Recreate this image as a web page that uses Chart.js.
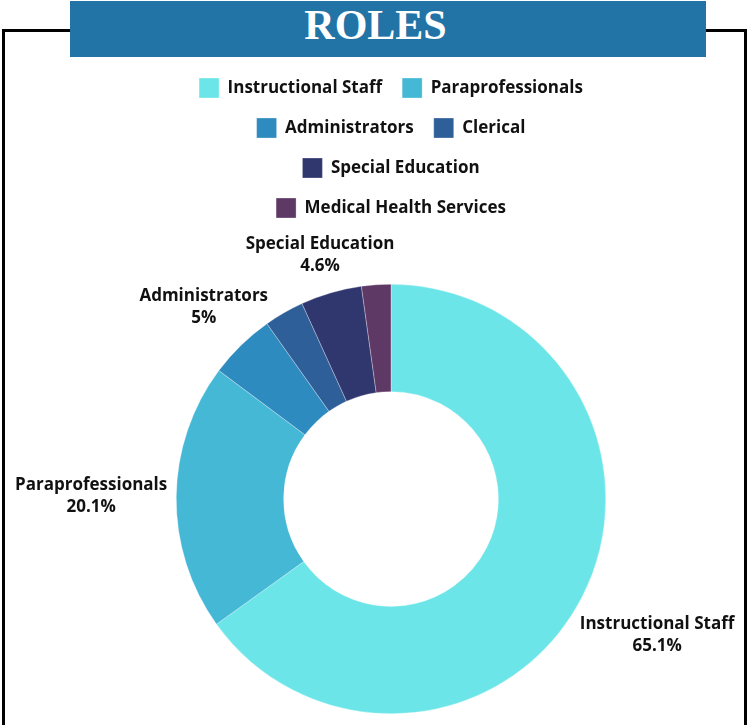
<!DOCTYPE html>
<html>
<head>
<meta charset="utf-8">
<script src="https://cdn.jsdelivr.net/npm/chart.js@4.4.0/dist/chart.umd.min.js"></script>
<style>
  html, body { margin: 0; padding: 0; background: #fff; }
  body { width: 749px; height: 725px; position: relative; overflow: hidden; }
  #frame {
    position: absolute; left: 2px; top: 29px; width: 745px; height: 720px;
    border: 3px solid #000; border-bottom: none; box-sizing: border-box;
  }
  #banner {
    position: absolute; left: 70px; top: 1px; width: 636px; height: 56px;
    box-sizing: border-box; padding-right: 25px;
    background: #2374a6; color: #fff; text-align: center;
    font-family: "Liberation Serif", serif; font-weight: bold; font-size: 42px;
    line-height: 48px;
  }
  #myChart { position: absolute; left: 0; top: 0; }
</style>
</head>
<body>
<div id="frame"></div>
<div id="banner">ROLES</div>
<canvas id="myChart" width="749" height="725"></canvas>
<script>
const roles = ['Instructional Staff', 'Paraprofessionals', 'Administrators', 'Clerical', 'Special Education', 'Medical Health Services'];
const shares = [65.1, 20.1, 5, 3.0, 4.6, 2.2];
const colors = ['#6be5e8', '#45b8d6', '#2e8bbf', '#2e5f98', '#30366e', '#5e3966'];

// extra room under the legend
const legendGap = {
  id: 'legendGap',
  beforeInit(chart) {
    const origFit = chart.legend.fit;
    chart.legend.fit = function fit() {
      origFit.bind(chart.legend)();
      this.height += 56;
    };
  }
};

// draws "name / value%" outside the bigger slices
const outsideLabels = {
  id: 'outsideLabels',
  afterDatasetsDraw(chart) {
    const ctx = chart.ctx;
    const meta = chart.getDatasetMeta(0);
    ctx.save();
    ctx.font = 'bold 17px "Open Sans"';
    ctx.fillStyle = '#111';
    ctx.textAlign = 'center';
    ctx.textBaseline = 'middle';
    meta.data.forEach((arc, i) => {
      const v = shares[i];
      if (v < 4) return;
      const p = arc.getProps(['x', 'y', 'startAngle', 'endAngle', 'outerRadius']);
      const a = (p.startAngle + p.endAngle) / 2;
      const dx = Math.cos(a), dy = Math.sin(a);
      const lines = [roles[i], v + '%'];
      const w = Math.max(...lines.map(t => ctx.measureText(t).width)) / 2 + 10;
      const h = 39;
      const clear = Math.min(Math.abs(dx) > 0.001 ? w / Math.abs(dx) : 1e9, Math.abs(dy) > 0.001 ? h / Math.abs(dy) : 1e9);
      const r = p.outerRadius - 1 + clear;
      const cx = p.x + dx * r, cy = p.y + dy * r;
      ctx.fillText(lines[0], cx, cy - 11);
      ctx.fillText(lines[1], cx, cy + 11);
    });
    ctx.restore();
  }
};

let ctx = document.getElementById('myChart').getContext('2d');
let chart = new Chart(ctx, {
  type: 'doughnut',
  data: {
    labels: roles,
    datasets: [{
      data: shares,
      backgroundColor: colors,
      borderColor: 'rgba(255,255,255,0.6)',
      borderWidth: 0.5
    }]
  },
  options: {
    responsive: false,
    animation: false,
    cutout: '50%',
    layout: { padding: { top: 58, bottom: 11, left: 175, right: 142 } },
    plugins: {
      legend: {
        position: 'top',
        labels: {
          boxWidth: 20,
          boxHeight: 20,
          padding: 20,
          color: '#111',
          font: { family: '"Open Sans"', size: 17, weight: 'bold' }
        }
      },
      tooltip: { enabled: false }
    }
  },
  plugins: [legendGap, outsideLabels]
});
</script>
</body>
</html>
